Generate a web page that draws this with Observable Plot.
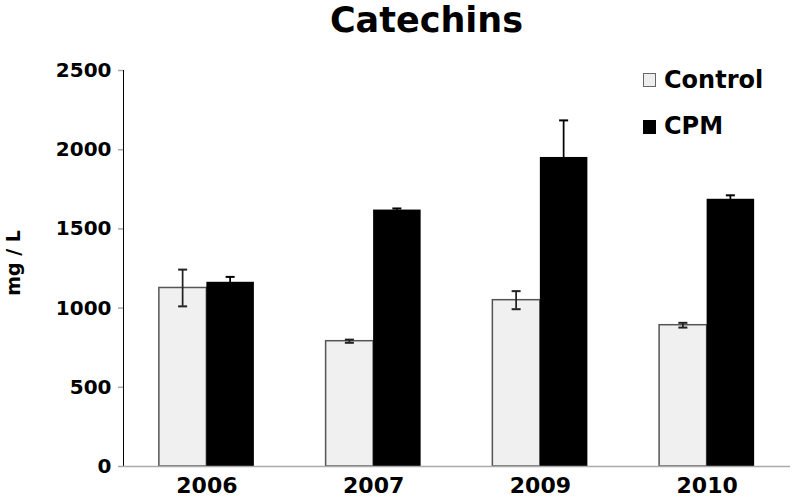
<!DOCTYPE html>
<html><head><meta charset="utf-8">
<script src="https://cdn.jsdelivr.net/npm/d3@7"></script>
<script src="https://cdn.jsdelivr.net/npm/@observablehq/plot@0.6"></script>
<style>
body{margin:0;background:#fff;}
#wrap{position:relative;width:792px;height:498px;font-family:"DejaVu Sans",Verdana,sans-serif;font-weight:bold;color:#000;}
.t{position:absolute;white-space:nowrap;line-height:1;}
.sw{position:absolute;width:13px;height:14px;box-sizing:border-box;}
</style></head><body>
<div id="wrap">
  <div id="chart"></div>
  <div class="t" style="left:426.5px;top:0px;font-size:35px;line-height:normal;transform:translateX(-50%);">Catechins</div>
  <div class="sw" style="left:643px;top:73px;background:#eeeeee;border:1.5px solid #666;"></div>
  <div class="t" style="left:664px;top:67.7px;font-size:24px;">Control</div>
  <div class="sw" style="left:643px;top:120px;background:#000;"></div>
  <div class="t" style="left:664px;top:113.7px;font-size:24px;">CPM</div>
  <div class="t" style="left:13px;top:262.5px;font-size:19px;transform:translate(-50%,-50%) rotate(-90deg);">mg / L</div>
</div>
<script>
const years = ["2006", "2007", "2009", "2010"];
const series = ["Control", "CPM"];
const controlValues = [1127, 791, 1050, 892];
const controlErrors = [116, 10, 57, 15];
const cpmValues = [1163, 1619, 1951, 1687];
const cpmErrors = [34, 10, 234, 25];
const yTicks = [0, 500, 1000, 1500, 2000, 2500];

const ctrl = years.map((yr, i) => ({year: yr, series: series[0], value: controlValues[i], err: controlErrors[i]}));
const cpm = years.map((yr, i) => ({year: yr, series: series[1], value: cpmValues[i], err: cpmErrors[i]}));

const half = 23.75;
function errMarks(d, dx, color) {
  return [
    Plot.barY(d, {x: "year", y1: r => r.value - r.err, y2: r => r.value + r.err, dx, insetLeft: 22.9, insetRight: 22.9, fill: color}),
    Plot.tickY(d, {x: "year", y: r => r.value + r.err, dx, insetLeft: 19.25, insetRight: 19.25, stroke: color, strokeWidth: 2}),
    Plot.tickY(d, {x: "year", y: r => r.value - r.err, dx, insetLeft: 19.25, insetRight: 19.25, stroke: color, strokeWidth: 2})
  ];
}

const chart = Plot.plot({
  width: 792,
  height: 498,
  marginLeft: 123,
  marginRight: 2,
  marginTop: 70,
  marginBottom: 32,
  style: {fontFamily: "DejaVu Sans, Verdana, sans-serif", fontWeight: "bold", fontSize: "20px", color: "#000", background: "transparent", overflow: "visible"},
  x: {type: "band", domain: years, paddingInner: 0.715, paddingOuter: 0.3575, round: false, tickSize: 0, tickPadding: 11, label: null},
  y: {domain: [0, 2500], ticks: yTicks, tickSize: 5, tickPadding: 7, label: null, tickFormat: d => String(d), line: true},
  marks: [
    Plot.barY(ctrl, {x: "year", y: "value", dx: -half, fill: "#f0f0f0", stroke: "#555", strokeWidth: 1.5}),
    Plot.barY(cpm, {x: "year", y: "value", dx: half, fill: "#000"}),
    ...errMarks(ctrl, -half, "#222"),
    ...errMarks(cpm, half, "#000"),
    Plot.ruleY([0], {stroke: "#aaa", strokeWidth: 1.5})
  ]
});
document.getElementById("chart").appendChild(chart);
const svg = d3.select(chart);
svg.selectAll('[aria-label^="x-axis"] text').style("font-size", "22px");
svg.selectAll('[aria-label^="y-axis"] path, [aria-label^="y-axis"] line').attr("stroke", "#aaa").style("stroke", "#aaa").attr("stroke-width", 1.5);
svg.selectAll('[aria-label^="y-axis"]').filter(function() { return this.getAttribute("aria-label").includes("tick") && !this.getAttribute("aria-label").includes("label"); }).attr("stroke", "#aaa");
</script>
</body></html>
